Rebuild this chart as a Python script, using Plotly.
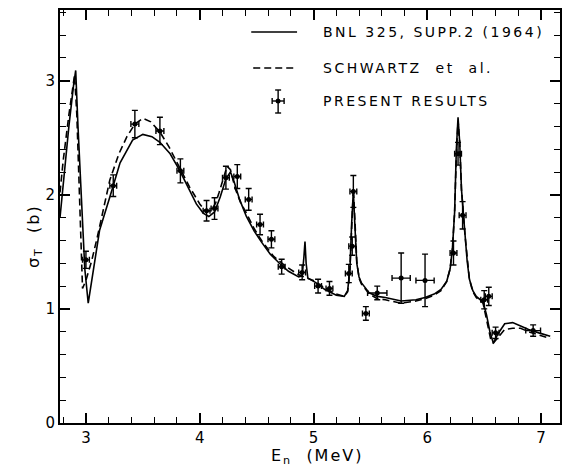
import plotly.graph_objects as go

# BNL 325, Supp.2 (1964) curve (solid)
bnl_x = [2.772, 2.80, 2.85, 2.89, 2.91, 2.93, 2.96, 2.99, 3.02, 3.06, 3.12, 3.21, 3.30, 3.41, 3.50,
         3.58, 3.65, 3.74, 3.82, 3.90, 3.97, 4.03, 4.08, 4.13, 4.18, 4.23, 4.27, 4.30, 4.35, 4.41,
         4.48, 4.54, 4.62, 4.70, 4.78, 4.87, 4.90, 4.915, 4.925, 4.935, 4.95, 5.02, 5.10, 5.20, 5.27,
         5.30, 5.32, 5.335, 5.35, 5.365, 5.38, 5.40, 5.42, 5.49, 5.56, 5.63, 5.77, 5.90, 5.98, 6.06,
         6.12, 6.17, 6.20, 6.22, 6.24, 6.255, 6.27, 6.285, 6.30, 6.33, 6.35, 6.37, 6.40, 6.43, 6.49,
         6.52, 6.55, 6.58, 6.62, 6.68, 6.75, 6.82, 6.89, 6.98, 7.08]
bnl_y = [1.80, 2.10, 2.60, 2.95, 3.09, 2.60, 1.90, 1.35, 1.05, 1.30, 1.69, 1.98, 2.28, 2.48, 2.53,
         2.51, 2.46, 2.36, 2.22, 2.06, 1.92, 1.84, 1.81, 1.85, 1.98, 2.14, 2.20, 2.12, 1.96, 1.81,
         1.68, 1.59, 1.48, 1.40, 1.33, 1.28, 1.29, 1.45, 1.59, 1.40, 1.27, 1.23, 1.17, 1.12, 1.11,
         1.16, 1.35, 1.75, 2.02, 1.70, 1.40, 1.28, 1.23, 1.14, 1.11, 1.10, 1.07, 1.08, 1.10, 1.13,
         1.17, 1.24, 1.35, 1.52, 1.85, 2.40, 2.68, 2.45, 2.05, 1.67, 1.42, 1.26, 1.16, 1.11, 1.06,
         0.95, 0.80, 0.70, 0.78, 0.87, 0.88, 0.85, 0.82, 0.79, 0.76]

# Schwartz et al. curve (dashed)
sch_x = [2.772, 2.80, 2.85, 2.90, 2.92, 2.95, 2.97, 3.00, 3.05, 3.10, 3.21, 3.29, 3.36, 3.43, 3.50,
         3.57, 3.65, 3.73, 3.82, 3.91, 4.00, 4.05, 4.10, 4.14, 4.17, 4.21, 4.24, 4.27, 4.31, 4.36,
         4.41, 4.48, 4.55, 4.65, 4.76, 4.87, 4.95, 5.02, 5.10, 5.20, 5.27, 5.30, 5.32, 5.335, 5.35,
         5.365, 5.38, 5.40, 5.42, 5.49, 5.56, 5.63, 5.77, 5.90, 5.98, 6.06, 6.12, 6.17, 6.20, 6.22,
         6.24, 6.255, 6.27, 6.285, 6.30, 6.33, 6.35, 6.37, 6.40, 6.43, 6.49, 6.52, 6.56, 6.58, 6.62,
         6.68, 6.75, 6.82, 6.89, 6.98, 7.08]
sch_y = [2.02, 2.30, 2.70, 3.05, 2.70, 1.85, 1.18, 1.25, 1.42, 1.63, 2.13, 2.36, 2.51, 2.62, 2.67,
         2.64, 2.55, 2.42, 2.25, 2.07, 1.92, 1.86, 1.86, 1.93, 2.02, 2.16, 2.25, 2.22, 2.06, 1.93,
         1.84, 1.70, 1.59, 1.46, 1.37, 1.30, 1.27, 1.24, 1.18, 1.13, 1.11, 1.15, 1.35, 1.80, 2.06,
         1.75, 1.42, 1.27, 1.22, 1.13, 1.09, 1.08, 1.05, 1.07, 1.09, 1.12, 1.16, 1.24, 1.35, 1.52,
         1.85, 2.35, 2.65, 2.45, 2.05, 1.66, 1.42, 1.26, 1.15, 1.10, 1.05, 0.92, 0.72, 0.70, 0.75,
         0.82, 0.83, 0.83, 0.80, 0.77, 0.74]

# Present results (data points with error bars)
pts_x = [3.00, 3.24, 3.43, 3.65, 3.83, 4.06, 4.13, 4.23, 4.33, 4.43, 4.53, 4.63, 4.72, 4.90,
         5.04, 5.14, 5.31, 5.34, 5.35, 5.46, 5.56, 5.77, 5.98, 6.23, 6.27, 6.31, 6.50, 6.54,
         6.60, 6.93]
pts_y = [1.43, 2.08, 2.62, 2.56, 2.21, 1.86, 1.88, 2.15, 2.16, 1.96, 1.74, 1.61, 1.37, 1.32,
         1.20, 1.18, 1.31, 1.55, 2.03, 0.96, 1.14, 1.27, 1.25, 1.49, 2.36, 1.82, 1.08, 1.11,
         0.79, 0.81]
pts_xerr = [0.03, 0.03, 0.035, 0.035, 0.03, 0.03, 0.03, 0.03, 0.03, 0.03, 0.03, 0.03, 0.03, 0.03,
            0.03, 0.03, 0.03, 0.03, 0.03, 0.03, 0.085, 0.08, 0.08, 0.03, 0.03, 0.03, 0.03, 0.03,
            0.03, 0.065]
pts_yerr = [0.075, 0.095, 0.12, 0.12, 0.105, 0.09, 0.095, 0.10, 0.105, 0.095, 0.09, 0.075, 0.065,
            0.065, 0.06, 0.06, 0.08, 0.08, 0.14, 0.06, 0.06, 0.22, 0.23, 0.105, 0.10, 0.12, 0.08,
            0.08, 0.05, 0.05]

x_ticks = [3, 4, 5, 6, 7]
y_ticks = [0, 1, 2, 3]

legend_labels = ["BNL 325, SUPP.2 (1964)", "SCHWARTZ  et  al.", "PRESENT RESULTS"]

FONT = "DejaVu Sans"

fig = go.Figure()
fig.add_trace(go.Scatter(x=bnl_x, y=bnl_y, mode="lines",
                         line=dict(color="black", width=1.6), showlegend=False))
fig.add_trace(go.Scatter(x=sch_x, y=sch_y, mode="lines",
                         line=dict(color="black", width=1.6, dash="7px,4px"), showlegend=False))
fig.add_trace(go.Scatter(x=pts_x, y=pts_y, mode="markers",
                         marker=dict(color="black", size=5),
                         error_y=dict(type="data", array=pts_yerr, visible=True,
                                      color="black", thickness=1.4, width=3),
                         error_x=dict(type="data", array=pts_xerr, visible=True,
                                      color="black", thickness=1.4, width=3),
                         showlegend=False))

# plot area in pixels: left 60, right 562, top 10, bottom 423
L, R, T, B = 60, 562, 10, 423
W, H = R - L, B - T

def px(xp):
    return (xp - L) / W

def py(yp):
    return (B - yp) / H

shapes = []
# legend: solid sample
shapes.append(dict(type="line", xref="paper", yref="paper", x0=px(252), x1=px(298),
                   y0=py(32), y1=py(32), line=dict(color="black", width=1.6)))
# dashed sample
shapes.append(dict(type="line", xref="paper", yref="paper", x0=px(254), x1=px(298),
                   y0=py(68), y1=py(68), line=dict(color="black", width=1.6, dash="7px,4px")))
# error-bar sample
cx, cy = 279, 101
shapes += [
    dict(type="line", xref="paper", yref="paper", x0=px(cx), x1=px(cx), y0=py(90), y1=py(113),
         line=dict(color="black", width=1.4)),
    dict(type="line", xref="paper", yref="paper", x0=px(cx - 3), x1=px(cx + 3), y0=py(90), y1=py(90),
         line=dict(color="black", width=1.4)),
    dict(type="line", xref="paper", yref="paper", x0=px(cx - 3), x1=px(cx + 3), y0=py(113), y1=py(113),
         line=dict(color="black", width=1.4)),
    dict(type="line", xref="paper", yref="paper", x0=px(cx - 6), x1=px(cx + 6), y0=py(cy), y1=py(cy),
         line=dict(color="black", width=1.4)),
    dict(type="line", xref="paper", yref="paper", x0=px(cx - 6), x1=px(cx - 6), y0=py(cy - 3), y1=py(cy + 3),
         line=dict(color="black", width=1.4)),
    dict(type="line", xref="paper", yref="paper", x0=px(cx + 6), x1=px(cx + 6), y0=py(cy - 3), y1=py(cy + 3),
         line=dict(color="black", width=1.4)),
    dict(type="circle", xref="paper", yref="paper", x0=px(cx - 2.5), x1=px(cx + 2.5),
         y0=py(cy + 2.5), y1=py(cy - 2.5), fillcolor="black", line=dict(color="black", width=0)),
]

annotations = []
for lbl, yy in zip(legend_labels, [32, 68, 101]):
    annotations.append(dict(text='<span style="letter-spacing:2.5px">%s</span>' % lbl,
                            xref="paper", yref="paper", x=px(322), y=py(yy),
                            xanchor="left", yanchor="middle", showarrow=False,
                            font=dict(family=FONT, size=14, color="black")))
# axis titles
annotations.append(dict(text='<span style="letter-spacing:2px">E<sub>n</sub>  (MeV)</span>',
                        xref="paper", yref="paper", x=px(318), y=py(456),
                        xanchor="center", yanchor="middle", showarrow=False,
                        font=dict(family=FONT, size=16, color="black")))
annotations.append(dict(text='<span style="letter-spacing:2px">σ<sub>T</sub>  (b)</span>',
                        xref="paper", yref="paper", x=px(35), y=py(236),
                        xanchor="center", yanchor="middle", showarrow=False, textangle=-90,
                        font=dict(family=FONT, size=16, color="black")))

axis_common = dict(showgrid=False, zeroline=False, showline=True, linecolor="black", linewidth=2,
                   mirror="ticks", ticks="inside", ticklen=10, tickwidth=1.5, tickcolor="black",
                   tickfont=dict(family=FONT, size=15, color="black"))

fig.update_layout(
    width=563, height=475,
    margin=dict(l=L, r=563 - R, t=T, b=475 - B),
    paper_bgcolor="white", plot_bgcolor="white",
    xaxis=dict(range=[2.772, 7.166], tickvals=x_ticks, ticktext=[str(v) for v in x_ticks],
               minor=dict(dtick=0.2, tick0=0, ticks="inside", ticklen=6, tickwidth=1.2,
                          tickcolor="black"), **axis_common),
    yaxis=dict(range=[0, 3.62], tickvals=y_ticks, ticktext=[str(v) for v in y_ticks],
               minor=dict(dtick=0.2, tick0=0, ticks="inside", ticklen=6, tickwidth=1.2,
                          tickcolor="black"), **axis_common),
    shapes=shapes, annotations=annotations, showlegend=False,
)

fig.write_html("out.html")
